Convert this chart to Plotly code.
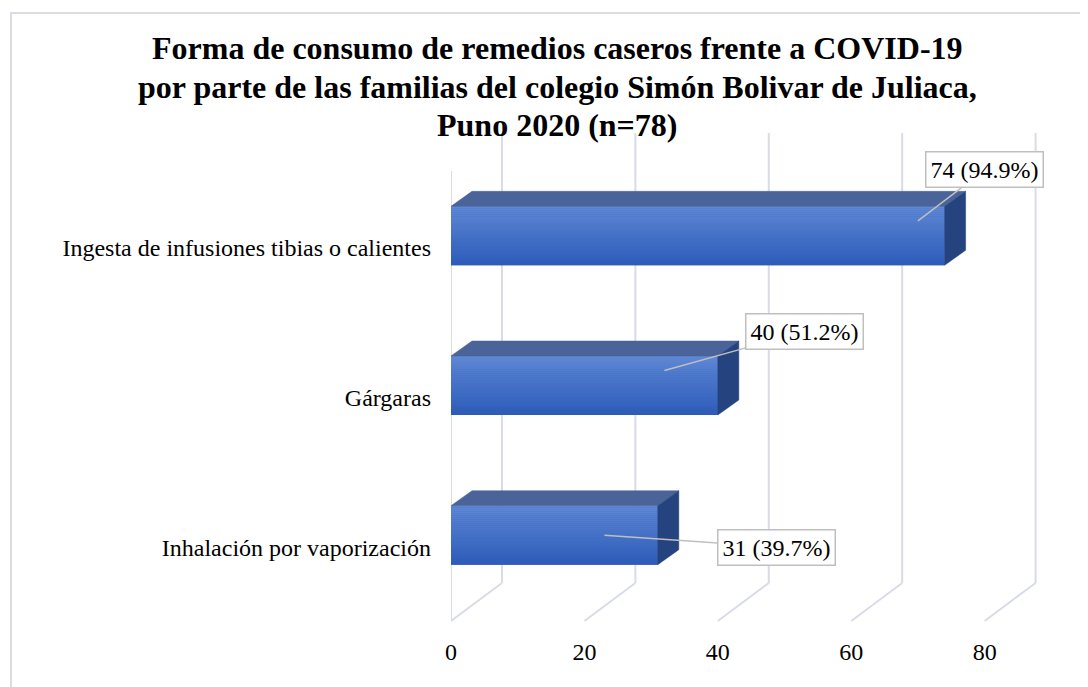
import plotly.graph_objects as go

# ---------------- data ----------------
categories = ["Inhalación por vaporización", "Gárgaras", "Ingesta de infusiones tibias o calientes"]
counts = [31, 40, 74]
percents = [39.7, 51.2, 94.9]
x_ticks = [0, 20, 40, 60, 80]
title_lines = [
    "Forma de consumo de remedios caseros frente a COVID-19",
    "por parte de las familias del colegio Simón Bolivar de Juliaca,",
    "Puno 2020 (n=78)",
]

# ---------------- style / geometry ----------------
FONT = "Liberation Serif, Times New Roman, serif"
OFF = 8                      # page body margin
W, H = 1080, 679
ML, MR, MT, MB = 451 - OFF, 50, 131 - OFF, 62
XR = [0, 88]
YR = [-0.6, 2.7]
BAR_W = 0.394
GRID = "#d9dce6"
FLOOR_FRONT = -0.573
WALL_DX = 7.64
WALL_DY = 0.254
WALL_TOP = 2.687
BAR_DX = 3.15
BAR_DY = 0.10

pw = W - ML - MR
ph = H - MT - MB
def paper_x(px):   # px: screen pixel
    return (px - OFF - ML) / pw
def paper_y(py):
    return (H - MB - (py - OFF)) / ph

ypos = list(range(len(categories)))

fig = go.Figure()
fig.add_trace(go.Bar(
    y=ypos, x=counts, orientation="h", width=BAR_W,
    marker=dict(color="#3f6dc8", line=dict(width=0)),
    hoverinfo="skip", showlegend=False,
))

shapes = []
for t in x_ticks:
    shapes.append(dict(type="line", xref="x", yref="y",
                       x0=t + WALL_DX, x1=t + WALL_DX,
                       y0=FLOOR_FRONT + WALL_DY, y1=WALL_TOP,
                       line=dict(color=GRID, width=2), layer="below"))
    shapes.append(dict(type="line", xref="x", yref="y",
                       x0=t, x1=t + WALL_DX,
                       y0=FLOOR_FRONT, y1=FLOOR_FRONT + WALL_DY,
                       line=dict(color=GRID, width=2), layer="below"))
shapes.append(dict(type="line", xref="x", yref="y",
                   x0=x_ticks[0], x1=x_ticks[0],
                   y0=FLOOR_FRONT, y1=WALL_TOP - WALL_DY,
                   line=dict(color=GRID, width=2), layer="below"))

top_rgb = (94, 135, 212)
bot_rgb = (44, 91, 184)
NB = 30
for c, v in zip(ypos, counts):
    h = BAR_W / 2
    for k in range(NB):
        f = k / (NB - 1)
        col = tuple(round(top_rgb[i] + (bot_rgb[i] - top_rgb[i]) * f) for i in range(3))
        y1 = c + h - k * BAR_W / NB
        y0 = y1 - BAR_W / NB * 1.05
        shapes.append(dict(type="rect", xref="x", yref="y", x0=0, x1=v, y0=max(y0, c - h), y1=y1,
                           fillcolor="rgb(%d,%d,%d)" % col, line=dict(width=0), layer="above"))
    shapes.append(dict(type="path", xref="x", yref="y",
                       path=f"M 0,{c+h} L {BAR_DX},{c+h+BAR_DY} L {v+BAR_DX},{c+h+BAR_DY} L {v},{c+h} Z",
                       fillcolor="#4a6399", line=dict(color="#4a6399", width=0.5), layer="above"))
    shapes.append(dict(type="path", xref="x", yref="y",
                       path=f"M {v},{c-h} L {v+BAR_DX},{c-h+BAR_DY} L {v+BAR_DX},{c+h+BAR_DY} L {v},{c+h} Z",
                       fillcolor="#25447f", line=dict(color="#25447f", width=0.5), layer="above"))

# chart border
shapes.append(dict(type="rect", xref="paper", yref="paper",
                   x0=paper_x(11), x1=paper_x(1110),
                   y0=paper_y(720), y1=paper_y(13),
                   line=dict(color="#d9dce3", width=2), fillcolor="rgba(0,0,0,0)", layer="below"))

# title lines as annotations (exact line spacing)
annotations = []
title_y = [48, 87, 125]
for line, ty in zip(title_lines, title_y):
    annotations.append(dict(
        text=f"<b>{line}</b>", x=paper_x(557), y=paper_y(ty), xref="paper", yref="paper",
        xanchor="center", yanchor="middle", showarrow=False,
        font=dict(family=FONT, size=32, color="black"),
    ))

# data labels (callouts)
label_tips = [(23, 0.0), (32, 1.1), (70, 2.1)]
label_offsets = [(172, 12), (140, -39), (67, -51)]
for (tx, ty), (ax, ay), n, p in zip(label_tips, label_offsets, counts, percents):
    annotations.append(dict(
        x=tx, y=ty, xref="x", yref="y", ax=ax, ay=ay,
        text=f"{n} ({p}%)", showarrow=True, arrowhead=0, arrowwidth=1.5,
        arrowcolor="#bfbfbf", standoff=0,
        bordercolor="#bfbfbf", borderwidth=1.5, borderpad=4, bgcolor="white",
        font=dict(family=FONT, size=24, color="black"),
    ))

fig.update_layout(
    width=W, height=H,
    margin=dict(l=ML, r=MR, t=MT, b=MB, autoexpand=False),
    paper_bgcolor="white", plot_bgcolor="rgba(0,0,0,0)",
    xaxis=dict(range=XR, tickvals=x_ticks, showgrid=False, zeroline=False, showline=False,
               ticks="", ticklabelstandoff=10,
               tickfont=dict(family=FONT, size=24, color="black")),
    yaxis=dict(range=YR, tickvals=ypos, ticktext=categories, showgrid=False, zeroline=False,
               showline=False, ticks="", ticklabelstandoff=19, ticklabelshift=12,
               tickfont=dict(family=FONT, size=24, color="black")),
    shapes=shapes,
    annotations=annotations,
    bargap=0.5,
)

fig.write_html("out.html")
